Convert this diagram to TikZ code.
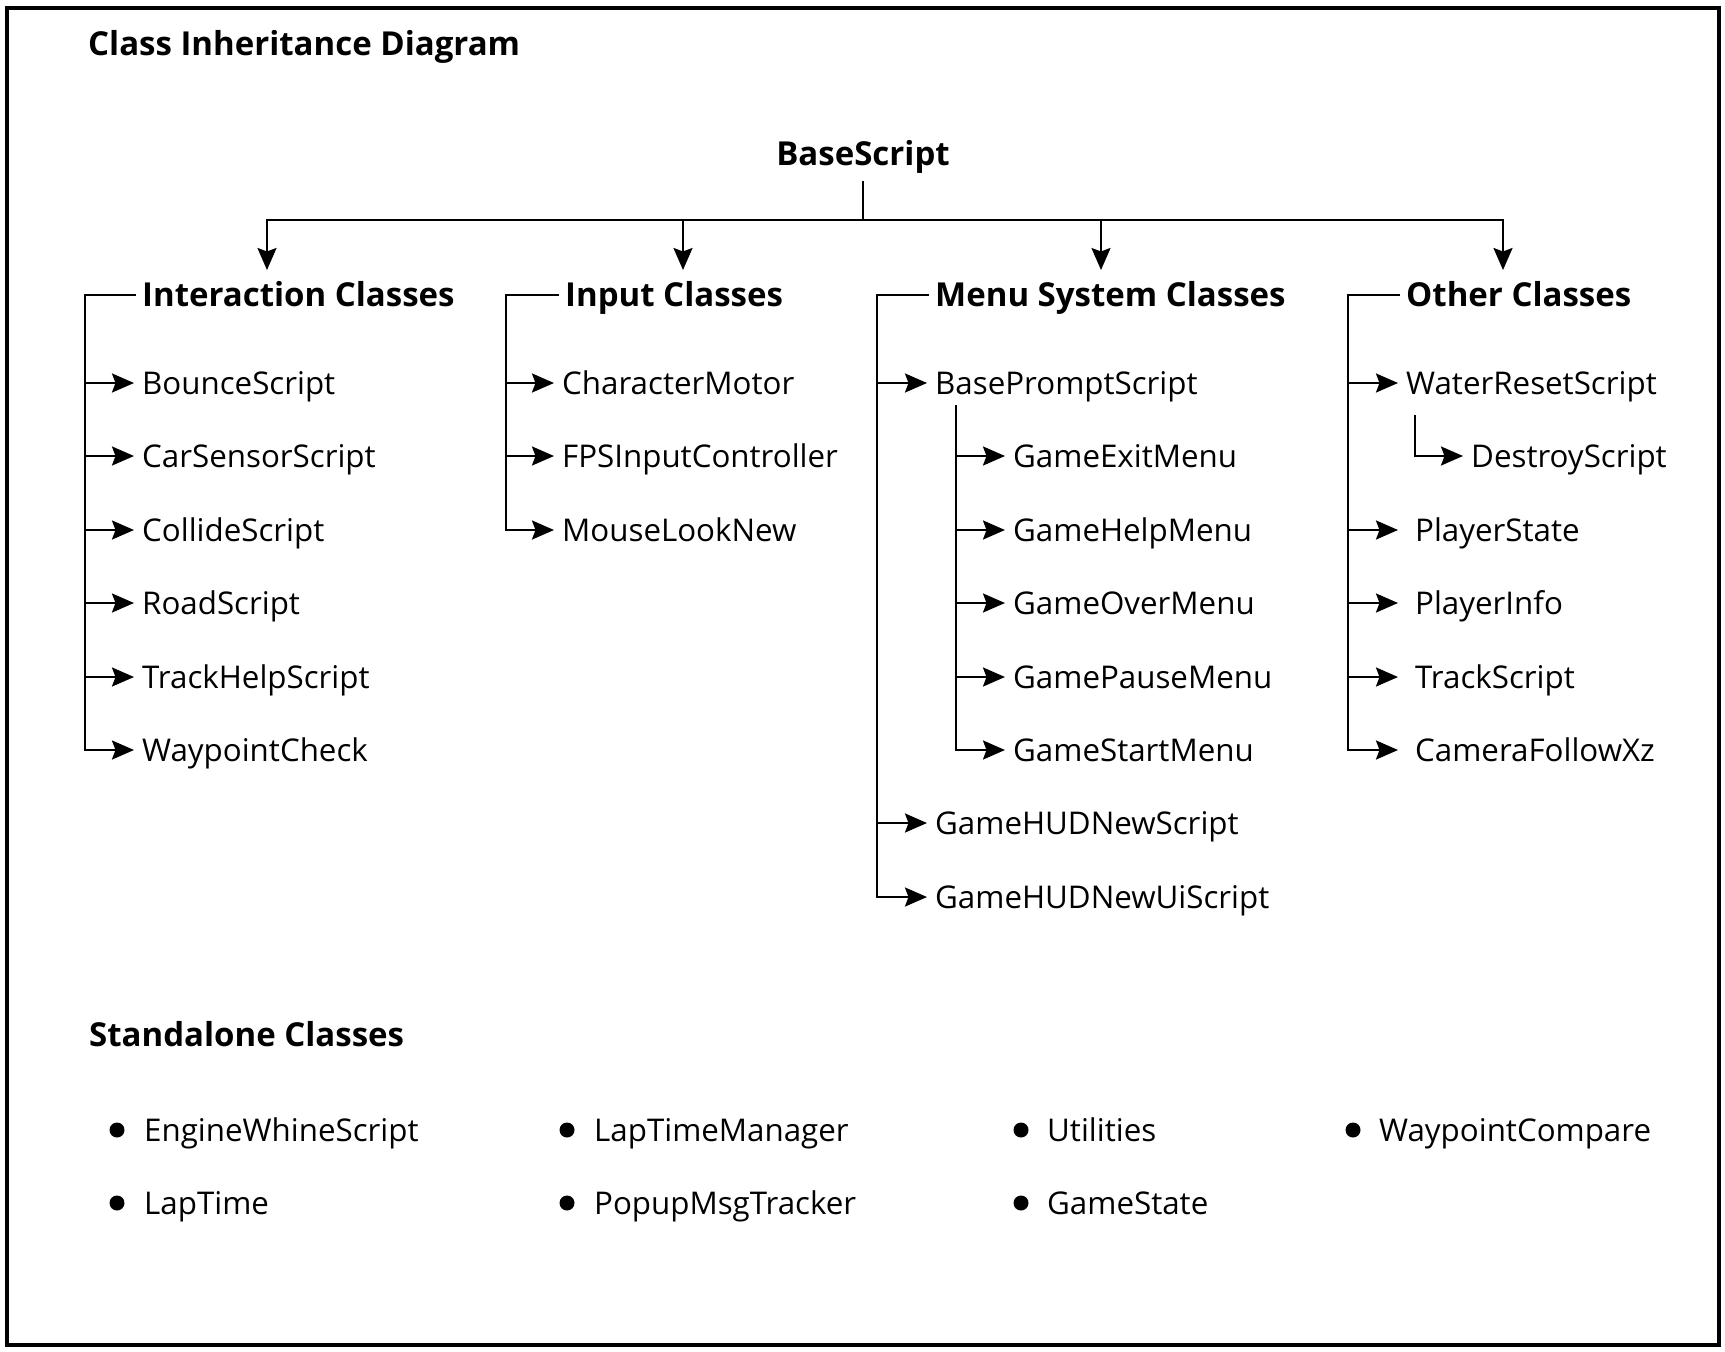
\documentclass[tikz,border=0pt]{standalone}
\usepackage{fontspec}
\setmainfont{Open Sans}
\usetikzlibrary{arrows.meta}
\begin{document}
\begin{tikzpicture}[x=1pt,y=-1pt,
  line/.style={line width=2.3pt, line cap=rect},
  arr/.style={line width=2.3pt, -{Stealth[length=22pt,width=19pt,inset=3.5pt]}},
  item/.style={anchor=west, inner xsep=8pt, inner ysep=0pt, text height=22.1pt, text depth=0pt, font=\fontsize{31.3}{34}\selectfont},
  head/.style={anchor=west, inner xsep=7pt, inner ysep=0pt, text height=23.6pt, text depth=0pt, font=\fontsize{33}{36}\selectfont\bfseries},
  bullet/.style={circle, fill=black, inner sep=0pt, minimum size=15pt},
  sitem/.style={anchor=west, inner sep=0pt, text height=22.1pt, text depth=0pt, font=\fontsize{31.3}{34}\selectfont}
]
\useasboundingbox (0,0) rectangle (1725,1352);
\draw[line width=4pt] (7,8) rectangle (1719,1345);

% titles
\node[head, inner xsep=0pt] (title) at (88,43.2) {Class Inheritance Diagram};
\node[head, anchor=center, inner xsep=0pt] (base) at (863,153.2) {BaseScript};
\node[head, inner xsep=0pt] (stand) at (89,1034.2) {Standalone Classes};

% category headings
\node[head] (hI) at (135,295) {Interaction Classes};
\node[head] (hN) at (558,295) {Input Classes};
\node[head] (hM) at (928,295) {Menu System Classes};
\node[head] (hO) at (1399,295) {Other Classes};

% top distribution
\coordinate (jI) at (267,220);
\coordinate (jN) at (683,220);
\coordinate (jM) at (1101,220);
\coordinate (jO) at (1503,220);
\draw[line] (jI) -- (jO);
\draw[line, shorten <=17pt] (base.south) -- (base.south |- jI);
\foreach \j/\h in {jI/hI, jN/hN, jM/hM, jO/hO}
  \draw[arr, shorten >=13pt] (\j) -- (\j |- \h.north);

% Interaction
\node[item] (i1) at (134,383) {BounceScript};
\node[item] (i2) at (134,456) {CarSensorScript};
\node[item] (i3) at (134,530) {CollideScript};
\node[item] (i4) at (134,603) {RoadScript};
\node[item] (i5) at (134,677) {TrackHelpScript};
\node[item] (i6) at (134,750) {WaypointCheck};
\coordinate (tI) at (85,750);
\draw[line] (hI.west) -| (tI);
\foreach \n in {i1,i2,i3,i4,i5,i6}
  \draw[arr] (tI |- \n.west) -- (\n.west);

% Input
\node[item] (n1) at (554,383) {CharacterMotor};
\node[item] (n2) at (554,456) {FPSInputController};
\node[item] (n3) at (554,530) {MouseLookNew};
\coordinate (tN) at (506,530);
\draw[line] (hN.west) -| (tN);
\foreach \n in {n1,n2,n3}
  \draw[arr] (tN |- \n.west) -- (\n.west);

% Menu
\node[item] (m1) at (927,383) {BasePromptScript};
\node[item] (m2) at (1005,456) {GameExitMenu};
\node[item] (m3) at (1005,530) {GameHelpMenu};
\node[item] (m4) at (1005,603) {GameOverMenu};
\node[item] (m5) at (1005,677) {GamePauseMenu};
\node[item] (m6) at (1005,750) {GameStartMenu};
\node[item] (m7) at (927,823) {GameHUDNewScript};
\node[item] (m8) at (927,897) {GameHUDNewUiScript};
\coordinate (tM) at (877,897);
\coordinate (sM) at (956,750);
\draw[line] (hM.west) -| (tM);
\foreach \n in {m1,m7,m8}
  \draw[arr] (tM |- \n.west) -- (\n.west);
\draw[line, shorten <=12pt] (sM |- m1.south) -- (sM);
\foreach \n in {m2,m3,m4,m5,m6}
  \draw[arr] (sM |- \n.west) -- (\n.west);

% Other
\node[item] (o1) at (1398,383) {WaterResetScript};
\node[item] (o2) at (1463,456) {DestroyScript};
\node[item, inner xsep=17pt] (o3) at (1398,530) {PlayerState};
\node[item, inner xsep=17pt] (o4) at (1398,603) {PlayerInfo};
\node[item, inner xsep=17pt] (o5) at (1398,677) {TrackScript};
\node[item, inner xsep=17pt] (o6) at (1398,750) {CameraFollowXz};
\coordinate (tO) at (1348,750);
\coordinate (sO) at (1415,456);
\draw[line] (hO.west) -| (tO);
\foreach \n in {o1,o3,o4,o5,o6}
  \draw[arr] (tO |- \n.west) -- (\n.west);
\draw[arr, shorten <=21pt] (sO |- o1.south) |- (o2.west);

% Standalone
\node[bullet] (b1) at (117,1130) {};
\node[bullet] (b2) at (567,1130) {};
\node[bullet] (b3) at (1021,1130) {};
\node[bullet] (b4) at (1353,1130) {};
\node[bullet] (b5) at (117,1203) {};
\node[bullet] (b6) at (567,1203) {};
\node[bullet] (b7) at (1021,1203) {};
\node[sitem] (s1) at (144,1130) {EngineWhineScript};
\node[sitem] (s2) at (594,1130) {LapTimeManager};
\node[sitem] (s3) at (1047,1130) {Utilities};
\node[sitem] (s4) at (1379,1130) {WaypointCompare};
\node[sitem] (s5) at (144,1203) {LapTime};
\node[sitem] (s6) at (594,1203) {PopupMsgTracker};
\node[sitem] (s7) at (1047,1203) {GameState};
\end{tikzpicture}
\end{document}
